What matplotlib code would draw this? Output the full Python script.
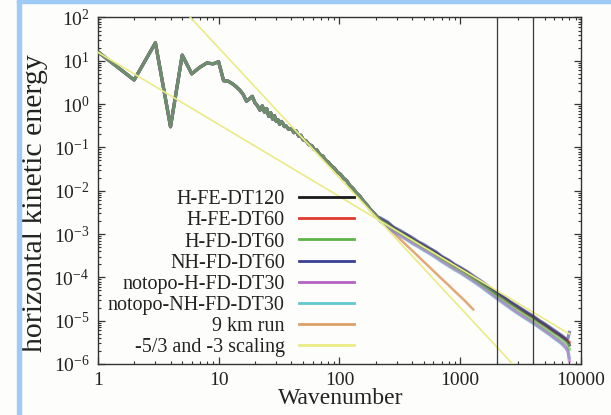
import matplotlib
matplotlib.use('Agg')
import matplotlib.pyplot as plt
from matplotlib.patches import Rectangle
from matplotlib.ticker import FixedLocator, FixedFormatter, LogLocator, NullFormatter

plt.rcParams['font.family'] = ['Liberation Serif', 'DejaVu Serif']
plt.rcParams['mathtext.fontset'] = 'custom'
plt.rcParams['mathtext.rm'] = 'Liberation Serif'
plt.rcParams['mathtext.it'] = 'Liberation Serif:italic'
plt.rcParams['mathtext.bf'] = 'Liberation Serif:bold'

# ---------------- data ----------------
# shared part of all spectra (wavenumbers 1..205)
k_shared = [1, 2, 3, 4, 5, 6, 7, 8, 9, 10, 11, 12, 13, 14, 15, 16, 17, 18, 19, 20,
            21, 22, 23, 24, 25, 26, 27, 28, 29, 30,
            31, 32, 33, 34, 35, 36, 38, 40, 42, 44, 46, 48, 50, 53, 56, 59, 62, 65,
            69, 73, 77, 81, 86, 91, 96, 102, 108, 115, 122, 130, 138, 147, 157, 168,
            180, 192, 205]
e_shared = [16.2, 3.6, 26.0, 0.30, 13.5, 5.0, 7.1, 8.9, 8.5, 9.5, 3.47, 3.39, 2.95, 2.51,
            2.09, 1.66, 1.17, 1.32, 1.51, 1.07, 0.91, 0.72, 0.91, 0.65, 0.79, 0.52, 0.63,
            0.45, 0.54, 0.40,
            0.437, 0.339, 0.398, 0.363, 0.302, 0.316, 0.263, 0.275, 0.219, 0.240, 0.182,
            0.191, 0.151, 0.141, 0.115, 0.110, 0.0891, 0.0871, 0.0676, 0.0631, 0.0501,
            0.0457, 0.0372, 0.0331, 0.0269, 0.0240, 0.0195, 0.0170, 0.0132, 0.0112,
            0.00891, 0.00759, 0.00589, 0.00479, 0.00372, 0.00309, 0.00251]

# high-resolution runs, wavenumbers 220..7999
k_tail = [220, 250, 280, 320, 360, 400, 450, 500, 560, 630, 700, 800, 900, 1000, 1150,
          1300, 1500, 1750, 2000, 2300, 2600, 3000, 3500, 4000, 4500, 5000, 5500, 6000,
          6500, 7000, 7500, 7800, 7999]
e_H_FE_DT120 = [2.19e-3, 1.82e-3, 1.38e-3, 1.12e-3, 9.55e-4, 7.76e-4, 6.46e-4, 5.37e-4,
                4.47e-4, 3.72e-4, 2.95e-4, 2.40e-4, 1.91e-4, 1.62e-4, 1.26e-4, 1.00e-4,
                7.59e-5, 5.62e-5, 4.27e-5, 3.39e-5, 2.63e-5, 2.04e-5, 1.55e-5, 1.23e-5,
                9.77e-6, 8.13e-6, 6.76e-6, 5.62e-6, 4.90e-6, 4.17e-6, 3.55e-6, 3.16e-6,
                2.75e-6]
e_H_FE_DT60 = [2.14e-3, 1.70e-3, 1.41e-3, 1.07e-3, 9.12e-4, 7.59e-4, 6.17e-4, 5.25e-4,
               4.37e-4, 3.47e-4, 2.88e-4, 2.29e-4, 1.86e-4, 1.58e-4, 1.23e-4, 9.77e-5,
               7.41e-5, 5.50e-5, 4.17e-5, 3.24e-5, 2.57e-5, 1.95e-5, 1.48e-5, 1.17e-5,
               9.33e-6, 7.76e-6, 6.46e-6, 5.50e-6, 4.79e-6, 4.17e-6, 3.72e-6, 3.47e-6,
               3.16e-6]
e_H_FD_DT60 = [2.04e-3, 1.66e-3, 1.29e-3, 1.05e-3, 8.51e-4, 7.24e-4, 5.89e-4, 4.90e-4,
               4.17e-4, 3.31e-4, 2.69e-4, 2.19e-4, 1.74e-4, 1.48e-4, 1.15e-4, 9.12e-5,
               6.92e-5, 5.13e-5, 3.89e-5, 2.95e-5, 2.34e-5, 1.78e-5, 1.32e-5, 1.05e-5,
               8.32e-6, 6.76e-6, 5.62e-6, 4.79e-6, 4.07e-6, 3.55e-6, 3.02e-6, 2.69e-6,
               2.19e-6]
e_NH_FD_DT60 = [2.34e-3, 1.91e-3, 1.45e-3, 1.20e-3, 9.77e-4, 8.32e-4, 6.61e-4, 5.75e-4,
                4.68e-4, 3.89e-4, 3.09e-4, 2.51e-4, 2.00e-4, 1.70e-4, 1.35e-4, 1.05e-4,
                8.13e-5, 5.89e-5, 4.47e-5, 3.55e-5, 2.75e-5, 2.14e-5, 1.62e-5, 1.29e-5,
                1.02e-5, 8.51e-6, 7.08e-6, 6.03e-6, 5.13e-6, 4.47e-6, 3.80e-6, 3.98e-6,
                5.37e-6]
e_notopo_H_FD_DT30 = [1.95e-3, 1.51e-3, 1.17e-3, 9.33e-4, 7.59e-4, 6.31e-4, 5.25e-4, 4.37e-4,
                      3.63e-4, 2.95e-4, 2.40e-4, 1.91e-4, 1.55e-4, 1.32e-4, 1.02e-4, 8.13e-5,
                      6.17e-5, 4.47e-5, 3.39e-5, 2.57e-5, 2.00e-5, 1.51e-5, 1.15e-5, 9.12e-6,
                      7.24e-6, 5.89e-6, 4.90e-6, 4.07e-6, 3.47e-6, 2.95e-6, 2.40e-6, 1.91e-6,
                      1.17e-6]
e_notopo_NH_FD_DT30 = [1.91e-3, 1.45e-3, 1.15e-3, 8.91e-4, 7.41e-4, 6.03e-4, 5.01e-4, 4.17e-4,
                       3.47e-4, 2.82e-4, 2.29e-4, 1.82e-4, 1.48e-4, 1.26e-4, 9.77e-5, 7.76e-5,
                       5.89e-5, 4.27e-5, 3.24e-5, 2.45e-5, 1.91e-5, 1.45e-5, 1.10e-5, 8.71e-6,
                       6.92e-6, 5.62e-6, 4.68e-6, 3.89e-6, 3.31e-6, 2.82e-6, 2.34e-6, 2.00e-6,
                       1.38e-6]

# 9 km run, wavenumbers 220..1279
k_tail_9km = [220, 250, 300, 350, 400, 500, 600, 700, 800, 900, 1000, 1100, 1200, 1279]
e_tail_9km = [2.0e-3, 1.45e-3, 8.91e-4, 5.89e-4, 4.17e-4, 2.29e-4, 1.41e-4, 9.33e-5,
              6.61e-5, 4.79e-5, 3.63e-5, 2.82e-5, 2.19e-5, 1.82e-5]

# reference scaling lines
k_scaling = [1, 8000]
e_scaling_53 = [15.8, 4.95e-6]
e_scaling_3 = [2.0e4, 3.9e-8]

# marked wavenumbers
k_marks = [2000, 4000]

series_labels = ['H-FE-DT120', 'H-FE-DT60', 'H-FD-DT60', 'NH-FD-DT60',
                 'notopo-H-FD-DT30', 'notopo-NH-FD-DT30']
series_tails = [e_H_FE_DT120, e_H_FE_DT60, e_H_FD_DT60, e_NH_FD_DT60,
                e_notopo_H_FD_DT30, e_notopo_NH_FD_DT30]
series_colors = ['#1a1a1a', '#e0392d', '#5db44b', '#3b3f92', '#b263c2', '#63c7d0']
series_z = [2.3, 2.2, 2.6, 2.4, 2.5, 2.1]

x_ticks = [1, 10, 100, 1000, 10000]
x_ticklabels = ['1', '10', '100', '1000', '10000']
y_ticks = [1e-6, 1e-5, 1e-4, 1e-3, 1e-2, 1e-1, 1e0, 1e1, 1e2]
y_ticklabels = [r'$\mathdefault{10^{-6}}$', r'$\mathdefault{10^{-5}}$',
                r'$\mathdefault{10^{-4}}$', r'$\mathdefault{10^{-3}}$',
                r'$\mathdefault{10^{-2}}$', r'$\mathdefault{10^{-1}}$',
                r'$\mathdefault{10^{0}}$', r'$\mathdefault{10^{1}}$',
                r'$\mathdefault{10^{2}}$']

# ---------------- figure ----------------
BG = '#fdfdfb'
fig = plt.figure(figsize=(6.11, 4.15), dpi=100, facecolor=BG)
ax = fig.add_axes([0.160, 0.1229, 0.791, 0.835], facecolor=BG)

for lab, tail, col, z in zip(series_labels, series_tails, series_colors, series_z):
    ax.plot(k_shared + k_tail, e_shared + tail, color=col, lw=2.3, alpha=0.6,
            zorder=z, label=lab, solid_joinstyle='round')
ax.plot(k_shared + k_tail_9km, e_shared + e_tail_9km, color='#dea06a', lw=1.8,
        alpha=0.9, zorder=2.0, label='9 km run')
ax.plot(k_scaling, e_scaling_53, color='#ebeb86', lw=1.2, zorder=3,
        label='-5/3 and -3 scaling')
ax.plot(k_scaling, e_scaling_3, color='#ebeb86', lw=1.2, zorder=3, label='_nolegend_')
for km in k_marks:
    ax.axvline(km, color='#3a3a3a', lw=0.9, zorder=4)

ax.set_xscale('log')
ax.set_yscale('log')
ax.set_xlim(1, 10000)
ax.set_ylim(1e-6, 1e2)

ax.xaxis.set_major_locator(FixedLocator(x_ticks))
ax.xaxis.set_major_formatter(FixedFormatter(x_ticklabels))
ax.yaxis.set_major_locator(FixedLocator(y_ticks))
ax.yaxis.set_major_formatter(FixedFormatter(y_ticklabels))
ax.xaxis.set_minor_locator(LogLocator(base=10, subs=(2, 3, 4, 5, 6, 7, 8, 9), numticks=20))
ax.yaxis.set_minor_locator(LogLocator(base=10, subs=(2, 3, 4, 5, 6, 7, 8, 9), numticks=20))
ax.xaxis.set_minor_formatter(NullFormatter())
ax.yaxis.set_minor_formatter(NullFormatter())

ax.tick_params(which='both', direction='in', top=True, right=True,
               color='#333333', labelcolor='#222222')
ax.tick_params(which='major', length=5, width=0.9, labelsize=14)
ax.tick_params(which='minor', length=2.5, width=0.8)
ax.tick_params(axis='x', which='major', pad=6)
ax.tick_params(axis='y', which='major', pad=6)
for sp in ax.spines.values():
    sp.set_color('#333333')
    sp.set_linewidth(1.0)

ax.set_xlabel('Wavenumber', fontsize=17, color='#222222')
ax.xaxis.set_label_coords(0.503, -0.069)
ax.set_ylabel('horizontal kinetic energy', fontsize=21.5, color='#222222')
ax.yaxis.set_label_coords(-0.1035, 0.4646)

leg = ax.legend(loc='lower right', bbox_to_anchor=(0.530, 0.02), frameon=False,
                markerfirst=False, fontsize=14.5, handlelength=2.73,
                handletextpad=0.7, labelspacing=0.1, borderpad=0, borderaxespad=0)
for h in leg.legend_handles:
    h.set_alpha(1)
    h.set_linewidth(2)
for t in leg.get_texts():
    t.set_color('#222222')

# light blue frame (left and top edges)
fig.patches.append(Rectangle((17 / 611, 0), 4 / 611, 1, transform=fig.transFigure,
                             color='#9dcbf5', zorder=0))
fig.patches.append(Rectangle((17 / 611, 1 - 3.5 / 415), 1, 3.5 / 415,
                             transform=fig.transFigure, color='#9dcbf5', zorder=0))

fig.savefig('out.png', dpi=100, facecolor=BG)
